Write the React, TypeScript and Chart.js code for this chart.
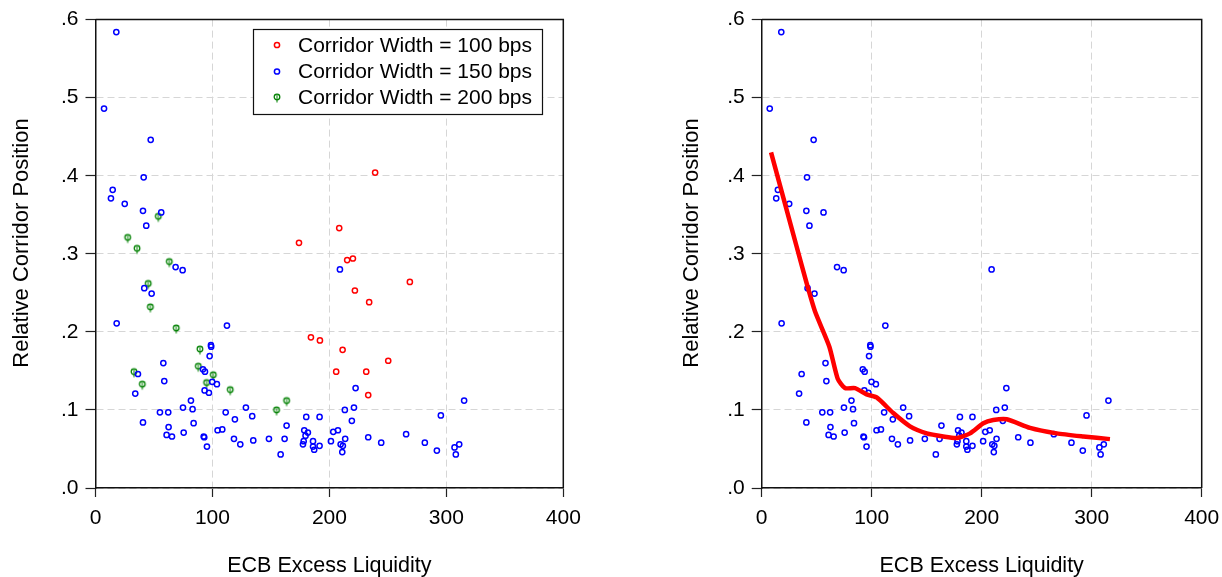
import React, { useEffect, useRef } from "react";
import { Chart, registerables } from "chart.js";

Chart.register(...registerables);

const FONT = '"Liberation Sans", Arial, Helvetica, sans-serif';

// ---- Data ----
const xTickValues = [0, 100, 200, 300, 400];
const yTickValues = [0, 0.1, 0.2, 0.3, 0.4, 0.5, 0.6];

const legendLabels = [
  "Corridor Width = 100 bps",
  "Corridor Width = 150 bps",
  "Corridor Width = 200 bps",
];

const xAxisTitle = "ECB Excess Liquidity";
const yAxisTitle = "Relative Corridor Position";

// Corridor width = 100 bps (red)
const red100X = [174, 208.4, 239.1, 215.2, 220.1, 268.8, 221.8, 234, 184.2, 191.9, 211.3, 250.3, 205.8, 231.5, 233.2];
const red100Y = [0.314, 0.333, 0.404, 0.292, 0.294, 0.264, 0.253, 0.238, 0.193, 0.189, 0.177, 0.163, 0.149, 0.149, 0.119];

// Corridor width = 150 bps (blue)
const blue150X = [
  17.8, 7.3, 47.2, 41.2, 14.7, 13.2, 25, 40.6, 56.2, 43.4,
  68.5, 74.5, 41.7, 48, 18.1, 112.4, 98.7, 98.9, 97.6, 58,
  91.9, 93.6, 36.3, 58.8, 34, 99.8, 103.8, 93.3, 97, 81.6,
  74.8, 83, 55.1, 62.2, 111.3, 128.6, 134, 119.2, 40.6, 83.9,
  163.4, 180.2, 191.6, 62.5, 178.5, 104.4, 108.4, 181.6, 75.4, 179.6,
  60.8, 65.4, 92.5, 93, 118.4, 134.9, 148.3, 161.7, 178, 186,
  201.3, 203.3, 207.3, 177.4, 191.6, 123.8, 186, 187, 95.3, 158.3,
  209, 222.4, 315.2, 213.2, 221, 219.2, 295.3, 233.2, 265.6, 213.5,
  209.6, 211.5, 211, 244.3, 281.6, 291.9, 307, 311, 308.1,
];
const blue150Y = [
  0.584, 0.486, 0.446, 0.398, 0.382, 0.371, 0.364, 0.355, 0.353, 0.336,
  0.283, 0.279, 0.256, 0.249, 0.211, 0.208, 0.183, 0.181, 0.169, 0.16,
  0.152, 0.149, 0.146, 0.137, 0.121, 0.136, 0.133, 0.125, 0.122, 0.112,
  0.103, 0.101, 0.097, 0.097, 0.097, 0.103, 0.092, 0.088, 0.084, 0.083,
  0.08, 0.091, 0.091, 0.078, 0.074, 0.074, 0.075, 0.071, 0.071, 0.067,
  0.068, 0.066, 0.066, 0.065, 0.063, 0.061, 0.063, 0.063, 0.06, 0.06,
  0.06, 0.072, 0.074, 0.056, 0.054, 0.056, 0.053, 0.049, 0.053, 0.043,
  0.28, 0.128, 0.112, 0.1, 0.103, 0.086, 0.093, 0.065, 0.069, 0.063,
  0.056, 0.054, 0.046, 0.058, 0.058, 0.048, 0.052, 0.056, 0.043,
];

// Corridor width = 200 bps (green)
const green200X = [53.7, 27.5, 35.5, 63.1, 45.1, 46.9, 69, 89.3, 87.9, 32.9, 100.7, 40, 95, 115.2, 163.4, 154.8];
const green200Y = [0.348, 0.321, 0.307, 0.29, 0.262, 0.232, 0.205, 0.178, 0.156, 0.149, 0.145, 0.133, 0.135, 0.126, 0.112, 0.1];

// Smoothed fit (right panel, red line)
const fitX = [8.5, 21.2, 31.8, 40.9, 48.5, 61.5, 69.1, 75.7, 84.8, 95.4, 104.5, 119.6, 134.8, 150, 165.1, 177.3, 189.4, 201.5, 210.5, 222.7, 243.9, 268.2, 292.4, 316.6];
const fitY = [0.43, 0.364, 0.309, 0.262, 0.226, 0.181, 0.14, 0.128, 0.128, 0.12, 0.116, 0.096, 0.079, 0.07, 0.066, 0.064, 0.07, 0.083, 0.087, 0.088, 0.077, 0.07, 0.066, 0.0626];

const RED = "#ff0000";
const BLUE = "#0000ff";
const GREEN = "#008000";

const toPoints = (xs: number[], ys: number[]) => xs.map((x, i) => ({ x, y: ys[i] }));

function makeGreenMarker(): HTMLCanvasElement {
  const c = document.createElement("canvas");
  c.width = 10;
  c.height = 20;
  const g = c.getContext("2d")!;
  g.strokeStyle = GREEN;
  g.lineWidth = 1.3;
  g.beginPath();
  g.arc(5, 10, 2.8, 0, Math.PI * 2);
  g.stroke();
  g.lineWidth = 1;
  g.beginPath();
  g.moveTo(5, 8);
  g.lineTo(5, 15.5);
  g.stroke();
  return c;
}

const framePlugin = {
  id: "frame",
  beforeDatasetsDraw(chart: any) {
    const { ctx, chartArea: a } = chart;
    ctx.save();
    ctx.strokeStyle = "#111";
    ctx.lineWidth = 1.5;
    ctx.beginPath();
    ctx.moveTo(a.left, a.top);
    ctx.lineTo(a.right, a.top);
    ctx.lineTo(a.right, a.bottom);
    ctx.stroke();
    ctx.restore();
  },
};

function makeYTitlePlugin(cx: number) {
  return {
    id: "yTitle",
    afterDraw(chart: any) {
      const { ctx } = chart;
      ctx.save();
      ctx.translate(cx, 243);
      ctx.rotate(-Math.PI / 2);
      ctx.font = `22px ${FONT}`;
      ctx.fillStyle = "#000";
      ctx.textAlign = "center";
      ctx.textBaseline = "middle";
      ctx.fillText(yAxisTitle, 0, 0);
      ctx.restore();
    },
  };
}

function makeLegendPlugin(marker: HTMLCanvasElement) {
  return {
    id: "boxLegend",
    afterDraw(chart: any) {
      const { ctx } = chart;
      const bx = 253.5, by = 29.5, bw = 289, bh = 85;
      ctx.save();
      ctx.fillStyle = "#fff";
      ctx.fillRect(bx, by, bw, bh);
      ctx.strokeStyle = "#111";
      ctx.lineWidth = 1.2;
      ctx.strokeRect(bx, by, bw, bh);
      const rows = [45, 71.5, 97];
      const colors = [RED, BLUE, GREEN];
      ctx.font = `21px ${FONT}`;
      ctx.textBaseline = "middle";
      ctx.textAlign = "left";
      rows.forEach((ry, i) => {
        if (i < 2) {
          ctx.strokeStyle = colors[i];
          ctx.lineWidth = 1.5;
          ctx.beginPath();
          ctx.arc(277, ry, 2.6, 0, Math.PI * 2);
          ctx.stroke();
        } else {
          ctx.drawImage(marker, 277 - marker.width / 2, ry - marker.height / 2);
        }
        ctx.fillStyle = "#000";
        ctx.fillText(legendLabels[i], 298, ry + 1);
      });
      ctx.restore();
    },
  };
}

function makeOptions(p: { padLeft: number; padRight: number; yWidth: number }) {
  return {
    animation: false as const,
    responsive: false,
    devicePixelRatio: 1,
    events: [] as any[],
    layout: { padding: { left: p.padLeft, right: p.padRight, top: 17, bottom: 0 } },
    plugins: { legend: { display: false }, tooltip: { enabled: false } },
    scales: {
      x: {
        type: "linear" as const,
        position: "bottom" as const,
        min: xTickValues[0],
        max: xTickValues[xTickValues.length - 1],
        ticks: {
          stepSize: xTickValues[1] - xTickValues[0],
          color: "#000",
          font: { family: FONT, size: 21, lineHeight: 1.85 },
          padding: 2,
          maxRotation: 0,
          autoSkip: false,
        },
        grid: { color: "#d6d6d6", lineWidth: 1, tickColor: "#222", tickLength: 9, tickWidth: 1.2, tickBorderDash: [] },
        border: { display: true, color: "#111", width: 1.5, dash: [7, 4] },
        title: {
          display: true,
          text: xAxisTitle,
          color: "#000",
          font: { family: FONT, size: 21.5, lineHeight: 1 },
          padding: { top: 0, bottom: 0 },
        },
        afterFit: (s: any) => {
          s.height = 89;
        },
      },
      y: {
        type: "linear" as const,
        position: "left" as const,
        min: yTickValues[0],
        max: yTickValues[yTickValues.length - 1],
        ticks: {
          stepSize: 0.1,
          color: "#000",
          font: { family: FONT, size: 21 },
          padding: 7,
          callback: (v: any) => Number(v).toFixed(1).replace(/^0/, ""),
        },
        grid: { color: "#d6d6d6", lineWidth: 1, tickColor: "#222", tickLength: 10, tickWidth: 1.2, tickBorderDash: [] },
        border: { display: true, color: "#111", width: 1.5, dash: [7, 4] },
        title: { display: false },
        afterFit: (s: any) => {
          s.width = p.yWidth;
        },
      },
    },
  };
}

const pointStyleBase = { pointRadius: 2.6, pointBorderWidth: 1.5, pointBackgroundColor: "rgba(0,0,0,0)", showLine: false };

export default function App() {
  const leftRef = useRef<HTMLCanvasElement>(null);
  const rightRef = useRef<HTMLCanvasElement>(null);

  useEffect(() => {
    document.body.style.margin = "0";
    const marker = makeGreenMarker();

    const left = new Chart(leftRef.current!, {
      type: "scatter",
      data: {
        datasets: [
          { label: legendLabels[0], data: toPoints(red100X, red100Y), borderColor: RED, pointBorderColor: RED, ...pointStyleBase },
          { label: legendLabels[1], data: toPoints(blue150X, blue150Y), borderColor: BLUE, pointBorderColor: BLUE, ...pointStyleBase },
          {
            label: legendLabels[2],
            data: toPoints(green200X, green200Y),
            borderColor: GREEN,
            pointBorderColor: GREEN,
            ...pointStyleBase,
            pointStyle: marker as any,
          },
        ],
      },
      options: makeOptions({ padLeft: 0, padRight: 56.7, yWidth: 95.5 }) as any,
      plugins: [framePlugin, makeYTitlePlugin(21.7), makeLegendPlugin(marker)],
    });

    const right = new Chart(rightRef.current!, {
      type: "scatter",
      data: {
        datasets: [
          {
            label: "Fit",
            data: toPoints(fitX, fitY),
            borderColor: RED,
            borderWidth: 4.5,
            pointRadius: 0,
            showLine: true,
            tension: 0.2,
            borderCapStyle: "butt",
            borderJoinStyle: "round",
          },
          { label: legendLabels[1], data: toPoints(blue150X, blue150Y), borderColor: BLUE, pointBorderColor: BLUE, ...pointStyleBase },
        ],
      },
      options: makeOptions({ padLeft: 0, padRight: 20.3, yWidth: 141.7 }) as any,
      plugins: [framePlugin, makeYTitlePlugin(71.7)],
    });

    return () => {
      left.destroy();
      right.destroy();
    };
  }, []);

  return (
    <div style={{ position: "absolute", left: 0, top: 0, width: 1222, height: 577, background: "#fff" }}>
      <canvas ref={leftRef} width={620} height={577} style={{ position: "absolute", left: 0, top: 0 }} />
      <canvas ref={rightRef} width={602} height={577} style={{ position: "absolute", left: 620, top: 0 }} />
    </div>
  );
}
